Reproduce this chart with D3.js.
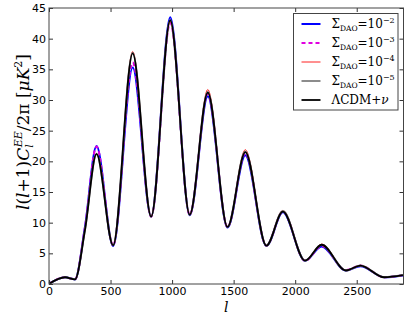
<!DOCTYPE html>
<html>
<head>
<meta charset="utf-8">
<script src="https://cdn.jsdelivr.net/npm/d3@7"></script>
<style>
  body { margin: 0; background: #fff; }
  svg { display: block; }
</style>
</head>
<body>
<div id="chart"></div>
<script>
// EE polarisation spectrum, DAO models vs LCDM+nu
const ells = [2, 130, 211, 292, 386, 521, 680, 830, 985, 1143, 1290, 1450, 1595, 1766, 1900, 2080, 2215, 2412, 2530, 2723, 2875];

const dao2 = [0.05, 1.1, 0.75, 9.3, 22.5, 6.2, 35.3, 11.0, 43.5, 11.2, 30.6, 9.2, 21.0, 6.2, 11.7, 3.8, 6.1, 2.2, 2.9, 1.1, 1.4];
const dao3 = [0.05, 1.1, 0.75, 9.2, 22.4, 6.3, 36.1, 11.0, 42.6, 11.3, 31.0, 9.3, 21.3, 6.25, 11.8, 3.8, 6.2, 2.25, 3.0, 1.1, 1.45];
const dao4 = [0.05, 1.1, 0.75, 8.9, 21.3, 6.3, 37.9, 11.0, 42.8, 11.3, 31.7, 9.3, 21.9, 6.3, 12.0, 3.85, 6.5, 2.25, 3.05, 1.1, 1.45];
const dao5 = [0.05, 1.1, 0.75, 8.8, 21.2, 6.3, 37.7, 11.0, 43.0, 11.3, 31.3, 9.3, 21.6, 6.25, 11.9, 3.8, 6.4, 2.2, 3.0, 1.1, 1.45];
const lcdm = [0.05, 1.1, 0.75, 8.8, 21.2, 6.3, 37.6, 11.0, 43.0, 11.3, 31.2, 9.3, 21.5, 6.25, 11.8, 3.8, 6.4, 2.2, 3.0, 1.1, 1.45];

const xTicks = [0, 500, 1000, 1500, 2000, 2500];
const yTicks = [0, 5, 10, 15, 20, 25, 30, 35, 40, 45];

const series = [
  {exp: "\u22122", vals: dao2, color: "#0000ff", width: 2, dash: null},
  {exp: "\u22123", vals: dao3, color: "#e000e0", width: 2, dash: "4,3"},
  {exp: "\u22124", vals: dao4, color: "#ff2020", width: 1, dash: null},
  {exp: "\u22125", vals: dao5, color: "#8c8c8c", width: 2, dash: null},
  {exp: null, vals: lcdm, color: "#000000", width: 1.8, dash: null}
];

(function() {
  const W = 407, H = 315;
  const margin = {top: 8, right: 3.5, bottom: 31, left: 49},
      width = W - margin.left - margin.right,
      height = H - margin.top - margin.bottom;

  const svg = d3.select("#chart")
    .append("svg")
    .attr("width", W)
    .attr("height", H)
    .style("font-family", "'DejaVu Sans', sans-serif");

  const g = svg.append("g")
    .attr("transform", `translate(${margin.left},${margin.top})`);

  const x = d3.scaleLinear().domain([0, 2880]).range([0, width]);
  const y = d3.scaleLinear().domain([0, 45]).range([height, 0]);

  // lines
  const line = d3.line()
    .x((d, i) => x(ells[i]))
    .y(d => y(d))
    .curve(d3.curveMonotoneX);

  series.forEach(s => {
    g.append("path")
      .datum(s.vals)
      .attr("fill", "none")
      .attr("stroke", s.color)
      .attr("stroke-width", s.width)
      .attr("stroke-dasharray", s.dash)
      .attr("stroke-linejoin", "round")
      .attr("d", line);
  });

  // axes, ticks inside on all four sides
  const styleAxis = sel => {
    sel.select(".domain").remove();
    sel.selectAll(".tick line").attr("stroke", "#333");
    sel.selectAll("text").attr("font-size", 11).attr("fill", "#000")
      .attr("font-family", "'DejaVu Sans', sans-serif");
  };

  g.append("g")
    .attr("transform", `translate(0,${height})`)
    .call(d3.axisBottom(x).tickValues(xTicks).tickFormat(d3.format("d"))
      .tickSizeInner(-4).tickSizeOuter(0).tickPadding(3))
    .call(styleAxis);

  g.append("g")
    .call(d3.axisTop(x).tickValues(xTicks).tickSizeInner(-4).tickSizeOuter(0).tickFormat(""))
    .call(styleAxis);

  g.append("g")
    .call(d3.axisLeft(y).tickValues(yTicks).tickSizeInner(-4).tickSizeOuter(0).tickPadding(3))
    .call(styleAxis);

  g.append("g")
    .attr("transform", `translate(${width},0)`)
    .call(d3.axisRight(y).tickValues(yTicks).tickSizeInner(-4).tickSizeOuter(0).tickFormat(""))
    .call(styleAxis);

  g.append("rect")
    .attr("width", width)
    .attr("height", height)
    .attr("fill", "none")
    .attr("stroke", "#444")
    .attr("stroke-width", 1);

  // axis labels
  const serif = "'DejaVu Serif', 'Liberation Serif', serif";
  const yl = svg.append("text")
    .attr("transform", "translate(29,132) rotate(-90)")
    .attr("text-anchor", "middle")
    .attr("font-family", serif)
    .attr("font-size", 17);
  yl.append("tspan").attr("font-style", "italic").text("l");
  yl.append("tspan").text("(");
  yl.append("tspan").attr("font-style", "italic").text("l");
  yl.append("tspan").text("+1)");
  yl.append("tspan").attr("font-style", "italic").text("C");
  yl.append("tspan").attr("font-style", "italic").attr("font-size", 11).attr("dy", 4).text("l");
  yl.append("tspan").attr("font-style", "italic").attr("font-size", 11).attr("dx", -3).attr("dy", -11).text("EE");
  yl.append("tspan").attr("dy", 7).text("/2\u03c0 [");
  yl.append("tspan").attr("font-style", "italic").text("\u03bcK");
  yl.append("tspan").attr("font-size", 11).attr("dy", -7).text("2");
  yl.append("tspan").attr("dy", 7).text("]");

  svg.append("text")
    .attr("x", margin.left + width / 2)
    .attr("y", 311.5)
    .attr("text-anchor", "middle")
    .attr("font-family", serif)
    .attr("font-style", "italic")
    .attr("font-size", 14)
    .text("l");

  // legend
  const lg = svg.append("g").attr("transform", "translate(293.5,13.5)");
  lg.append("rect")
    .attr("width", 104.5)
    .attr("height", 96.5)
    .attr("fill", "#fff")
    .attr("stroke", "#444")
    .attr("stroke-width", 1);

  series.forEach((s, i) => {
    const yy = 10.5 + i * 19;
    lg.append("line")
      .attr("x1", 8).attr("x2", 27)
      .attr("y1", yy).attr("y2", yy)
      .attr("stroke", s.color)
      .attr("stroke-width", s.width)
      .attr("stroke-dasharray", s.dash);
    const t = lg.append("text")
      .attr("x", 38)
      .attr("y", yy + 4)
      .attr("font-family", serif)
      .attr("font-size", 12);
    if (s.exp) {
      t.append("tspan").text("\u03a3");
      t.append("tspan").attr("font-size", 7.5).attr("dy", 3).text("DAO");
      t.append("tspan").attr("dy", -3).text("=10");
      t.append("tspan").attr("font-size", 8).attr("dy", -5).text(s.exp);
    } else {
      t.append("tspan").text("\u039bCDM+");
      t.append("tspan").attr("font-style", "italic").text("\u03bd");
    }
  });
})();
</script>
</body>
</html>
